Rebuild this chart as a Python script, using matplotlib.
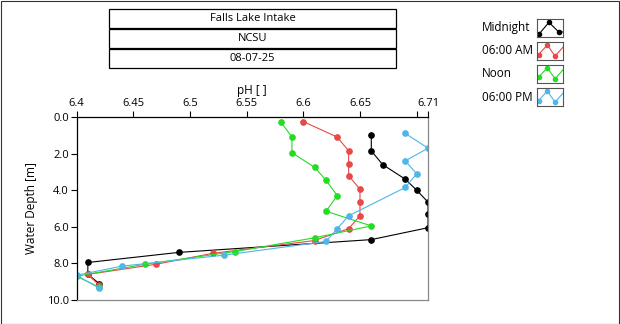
import matplotlib
matplotlib.use("Agg")
from matplotlib import pyplot as plt
from matplotlib.patches import Rectangle

plt.rcParams['font.family'] = ['Open Sans', 'DejaVu Sans']

# Data: depth [m] and pH for each sampling time
mid_depth = [1.0, 1.85, 2.6, 3.4, 4.0, 4.65, 5.3, 6.05, 6.7, 7.4, 7.95, 8.6, 9.1]
mid_ph = [6.66, 6.66, 6.67, 6.69, 6.70, 6.71, 6.71, 6.71, 6.66, 6.49, 6.41, 6.41, 6.42]

am_depth = [0.25, 1.1, 1.85, 2.55, 3.2, 3.95, 4.65, 5.4, 6.1, 6.75, 7.45, 8.05, 8.6, 9.2]
am_ph = [6.60, 6.63, 6.64, 6.64, 6.64, 6.65, 6.65, 6.65, 6.64, 6.61, 6.52, 6.47, 6.41, 6.42]

noon_depth = [0.25, 1.1, 1.95, 2.75, 3.45, 4.3, 5.15, 5.95, 6.6, 7.35, 8.05, 8.7, 9.3]
noon_ph = [6.58, 6.59, 6.59, 6.61, 6.62, 6.63, 6.62, 6.66, 6.61, 6.54, 6.46, 6.40, 6.42]

pm_depth = [0.9, 1.7, 2.4, 3.1, 3.85, 5.4, 6.1, 6.8, 7.55, 8.15, 8.65, 9.35]
pm_ph = [6.69, 6.71, 6.69, 6.70, 6.69, 6.64, 6.63, 6.62, 6.53, 6.44, 6.40, 6.42]

labels = ['Midnight', '06:00 AM', 'Noon', '06:00 PM']
colors = ['#000000', '#e84848', '#22dd22', '#4fb6e8']
series = [(mid_ph, mid_depth), (am_ph, am_depth), (noon_ph, noon_depth), (pm_ph, pm_depth)]

title_rows = ['Falls Lake Intake', 'NCSU', '08-07-25']
x_ticks = [6.4, 6.45, 6.5, 6.55, 6.6, 6.65, 6.7, 6.71]
x_ticklabels = ['6.4', '6.45', '6.5', '6.55', '6.6', '6.65', '', '6.71']
y_ticks = [0, 2, 4, 6, 8, 10]

W, H = 620, 324


def fx(px):
    return px / W


def fy(py):
    return 1 - py / H


fig = plt.figure(figsize=(W / 100, H / 100), dpi=100)
fig.patch.set_facecolor('white')
fig.patches.append(Rectangle((0.5 / W, 0.5 / H), 1 - 1.5 / W, 1 - 1.5 / H, transform=fig.transFigure,
                             fill=False, edgecolor='#333333', linewidth=0.8))

# title block
rows = [(8.5, 27.8), (29.0, 47.8), (49.0, 67.8)]
for text, (top, bot) in zip(title_rows, rows):
    fig.patches.append(Rectangle((fx(109), fy(bot)), fx(396) - fx(109), fy(top) - fy(bot),
                                 transform=fig.transFigure, fill=False, edgecolor='black', linewidth=0.9))
    fig.text(fx(252.5), fy((top + bot) / 2), text, ha='center', va='center', fontsize=8)

# main plot
ax = fig.add_axes([fx(76.5), fy(300), fx(428) - fx(76.5), fy(117) - fy(300)])
for (ph, depth), c in zip(series, colors):
    ax.plot(ph, depth, color=c, linewidth=0.8, marker='o', markersize=3.8)

ax.set_xlim(6.4, 6.71)
ax.set_ylim(10, 0)
ax.xaxis.tick_top()
ax.xaxis.set_label_position('top')
ax.set_xticks(x_ticks)
ax.set_xticklabels(x_ticklabels)
ax.set_yticks(y_ticks)
ax.set_yticklabels(['%.1f' % v for v in y_ticks])
ax.tick_params(axis='both', labelsize=8, length=4, width=0.8, pad=1.5)
ax.set_xlabel('pH [ ]', fontsize=8.5, labelpad=3)
ax.set_ylabel('Water Depth [m]', fontsize=8.5, labelpad=6)
ax.spines['top'].set_color('black')
ax.spines['left'].set_color('black')
ax.spines['right'].set_color('#888888')
ax.spines['bottom'].set_color('#888888')
for s in ax.spines.values():
    s.set_linewidth(0.9)

# legend: labels with small icon boxes
leg_y = [27.3, 50.0, 73.3, 97.3]
box_tops = [19.3, 42.3, 65.0, 88.3]
for lab, c, yc, bt in zip(labels, colors, leg_y, box_tops):
    fig.text(fx(482), fy(yc), lab, ha='left', va='center', fontsize=8.5)
    iax = fig.add_axes([fx(536.7), fy(bt + 18), fx(563.3) - fx(536.7), fy(bt) - fy(bt + 18)])
    if lab == 'Midnight':
        iax.plot([0.0, 0.1, 0.46, 0.84, 1.0], [0.08, 0.2, 0.83, 0.28, 0.3], color=c, linewidth=0.8)
        iax.plot([0.1, 0.46, 0.84], [0.2, 0.83, 0.28], 'o', color=c, markersize=3.0)
    else:
        iax.plot([0.0, 0.07, 0.4, 0.69, 1.0], [0.2, 0.32, 0.85, 0.23, 0.75], color=c, linewidth=0.8)
        iax.plot([0.07, 0.4, 0.69], [0.32, 0.85, 0.23], 'o', color=c, markersize=3.0)
    iax.set_xlim(0, 1)
    iax.set_ylim(0, 1)
    iax.set_xticks([])
    iax.set_yticks([])
    for s in iax.spines.values():
        s.set_color('#555555')
        s.set_linewidth(0.8)

fig.savefig('out.png', dpi=100)
